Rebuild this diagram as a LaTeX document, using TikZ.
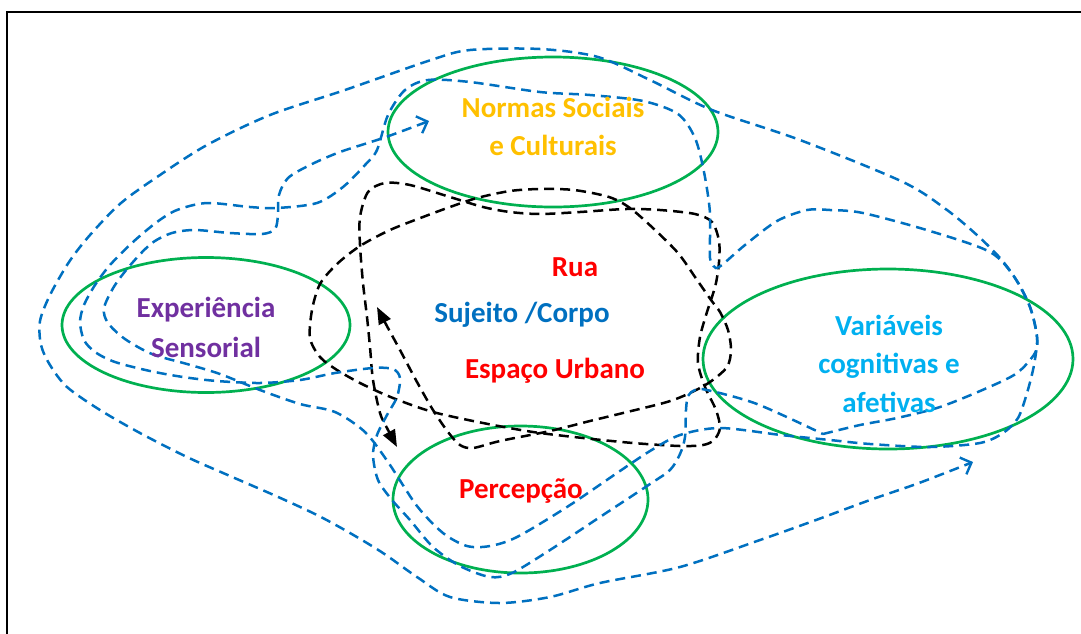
\documentclass[tikz,border=0pt]{standalone}
\usepackage{fontspec}
\setmainfont{Carlito}
\usetikzlibrary{arrows.meta,shapes.geometric}
\definecolor{dblue}{HTML}{0070C0}
\definecolor{lblue}{HTML}{00B0F0}
\definecolor{ggreen}{HTML}{00B050}
\definecolor{gold}{HTML}{FFC000}
\definecolor{purp}{HTML}{7030A0}
\definecolor{rred}{HTML}{FF0000}
\tikzset{
  ell/.style={draw=ggreen, line width=2.7pt, ellipse, inner sep=0pt},
  lbl/.style={font=\fontsize{29}{34}\selectfont\bfseries, inner sep=0pt, anchor=base},
  bdash/.style={draw=dblue, line width=2.5pt, dash pattern=on 10pt off 6pt},
  kdash/.style={draw=black, line width=2.5pt, dash pattern=on 10pt off 6pt},
  barb/.tip={Straight Barb[length=9pt,width=18pt,line width=2.4pt]},
  tri/.tip={Triangle[length=17pt,width=13pt]}
}
\begin{document}
\begin{tikzpicture}[x=1pt,y=-1pt]
\useasboundingbox (0,0) rectangle (1081,633);
\begin{scope}
\clip (0,0) rectangle (1081,633);
\draw[line width=2.2pt] (7,12) rectangle (1100,660);
\end{scope}

% ellipses
\node[ell, minimum width=330pt, minimum height=150pt] (normas) at (553,132) {};
\node[ell, minimum width=288pt, minimum height=135pt] (exper) at (206,325) {};
\node[ell, minimum width=370pt, minimum height=180pt] (varia) at (888,359) {};
\node[ell, minimum width=255pt, minimum height=147pt] (perc) at (520.5,499.5) {};

% black dashed path
\draw[kdash, tri-tri] plot[smooth] coordinates {
(377,307) (388,328) (400,350) (417,382) (433,410) (448,432) (460,445) (473,448)
(500,441) (550,431) (590,421) (623,413) (667,402) (690,393) (710,382) (727,367)
(731,350) (728,330) (720,312) (711,300) (695,277) (678,253) (654,229) (630,208)
(609,197) (574,190) (540,189) (510,191) (477,198) (450,207) (423,217) (390,230)
(360,246) (337,264) (320,284) (312,310) (310,338) (320,357) (337,370) (362,384)
(393,398) (433,412) (483,423) (533,432) (583,438) (633,443) (680,446) (703,445)
(714,440) (720,428) (716,410) (705,387) (698,363) (700,337) (707,312) (711,300)
(716,283) (719,262) (719,241) (712,222) (695,214) (660,210) (626,209) (580,212)
(540,214) (510,212) (483,207) (450,197) (410,185) (385,183) (368,192) (360,217)
(360,245) (363,283) (367,317) (370,347) (373,380) (380,413) (387,428) (397,447)};

% blue long path with two arrows
\draw[bdash, barb-barb] plot[smooth] coordinates {
(429,121) (383,138) (340,152) (310,165) (288,178) (279,195) (278,215) (275,229)
(262,234) (230,233) (195,230) (172,233) (152,243) (133,262) (115,285) (104,308)
(108,323) (125,339) (152,354) (187,364) (220,374) (260,390) (300,404) (335,412)
(365,432) (388,462) (417,506) (443,533) (467,546) (490,546) (517,537) (567,507)
(617,473) (650,451) (680,435) (720,428) (781,435) (830,440) (870,444) (930,447)
(980,443) (1003,433) (1018,418) (1027,393) (1034,365) (1037,337) (1030,307)
(1015,278) (1000,258) (978,236) (947,210) (903,182) (800,140) (712,110) (650,80)
(598,57) (540,49) (470,50) (431,60) (345,90) (270,115) (207,145) (160,175)
(121,203) (90,235) (69,262) (50,295) (40,321) (41,345) (50,365) (67,387)
(100,410) (140,433) (187,457) (230,476) (276,496) (317,515) (350,533) (383,553)
(417,577) (450,597) (500,603) (550,597) (600,583) (680,567) (760,540) (816,520)
(870,500) (919,483) (973,462)};

% blue closed loop
\draw[bdash] plot[smooth] coordinates {
(823,434) (860,425) (897,418) (940,407) (987,388) (1017,373) (1035,353) (1037,337)
(1030,307) (1015,278) (990,252) (930,231) (863,213) (830,210) (807,210) (777,221)
(745,245) (722,265) (716,268)}
-- plot[smooth] coordinates {
(716,268) (710,258) (710,213) (704,172) (695,138) (678,114) (643,101) (590,95)
(540,92) (470,82) (428,80) (405,90) (388,115) (377,150) (365,165) (343,187)
(317,203) (277,208) (250,207) (207,203) (177,210) (157,222) (133,242) (110,265)
(95,285) (84,305) (80,322) (84,340) (95,352) (115,362) (150,371) (183,377)
(217,381) (260,383) (300,380) (335,373) (373,368) (393,369) (400,378) (397,397)
(387,415) (377,435) (373,455) (378,480) (392,500) (410,520) (433,547) (460,566)
(490,577) (512,573) (550,550) (600,517) (650,484) (670,470) (680,454) (685,437)
(686,410) (688,396) (695,390) (707,390) (757,404) (823,434)};

% labels
\node[lbl, text=gold] (normasA) at (553,117) {Normas Sociais};
\node[lbl, text=gold] (normasB) at (553,155) {e Culturais};
\node[lbl, text=purp] (experA) at (206,317) {Experiência};
\node[lbl, text=purp] (experB) at (206,357) {Sensorial};
\node[lbl, text=lblue] (variaA) at (889,335) {Variáveis};
\node[lbl, text=lblue] (variaB) at (889,373) {cognitivas e};
\node[lbl, text=lblue] (variaC) at (889,412) {afetivas};
\node[lbl, text=rred] (rua) at (575,276) {Rua};
\node[lbl, text=dblue] (sujeito) at (522,322) {Sujeito /Corpo};
\node[lbl, text=rred] (espaco) at (555,378) {Espaço Urbano};
\node[lbl, text=rred] (percA) at (521,498) {Percepção};
\end{tikzpicture}
\end{document}
